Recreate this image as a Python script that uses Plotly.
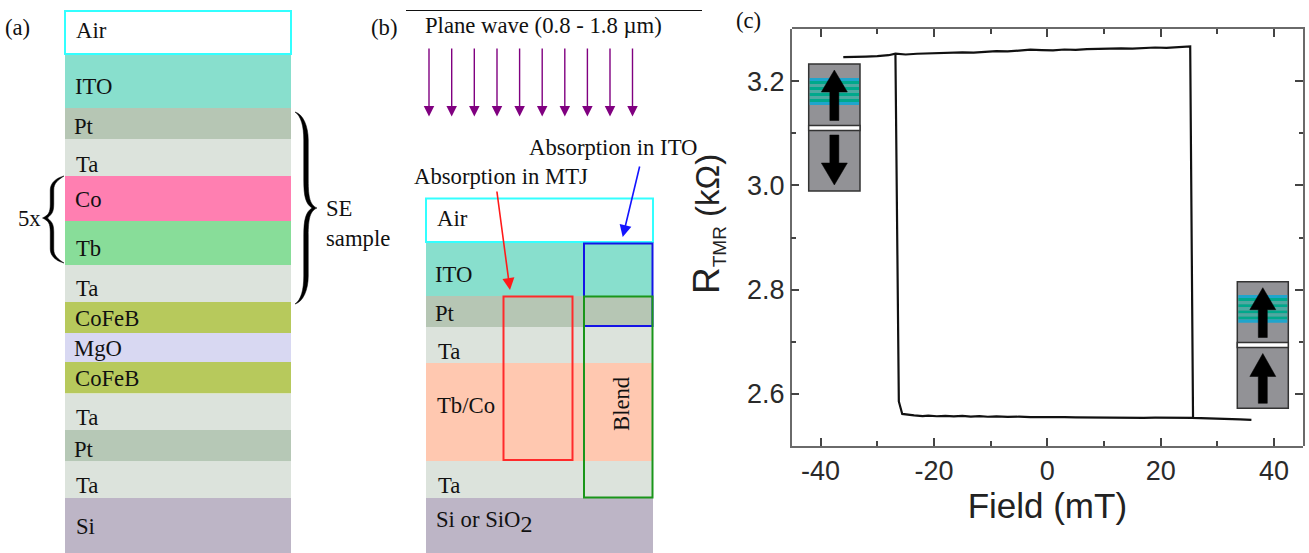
import plotly.graph_objects as go

W, H = 1309, 553
SERIF = "Liberation Serif"
SANS = "Liberation Sans"

# ---- panel (c) data
top_field = [-36, -34, -32, -30, -28, -26.8, -25, -23, -21, -19, -17, -15, -13, -11, -9, -7, -5, -3, -1, 1, 3, 5, 7, 9, 11, 13, 15, 17, 19, 21, 23, 25.2, 25.7, 28, 30, 32, 34, 36]
top_res = [3.2466, 3.2466, 3.2476, 3.2484, 3.2502, 3.2531, 3.2516, 3.2530, 3.2538, 3.2532, 3.2546, 3.2558, 3.2552, 3.2566, 3.2580, 3.2574, 3.2592, 3.2608, 3.2600, 3.2596, 3.2612, 3.2604, 3.2618, 3.2626, 3.2620, 3.2634, 3.2628, 3.2642, 3.2650, 3.2644, 3.2656, 3.2670, 2.5535, 2.5530, 2.5522, 2.5516, 2.5506, 2.5496]
bot_field = [25.7, 23, 21, 19, 17, 15, 13, 11, 9, 7, 5, 3, 1, -1, -3, -5, -7, -9, -10.5, -12, -13.5, -15, -16.5, -18, -19.5, -21, -22, -23.5, -25.6, -26.2, -26.8]
bot_res = [2.5535, 2.5540, 2.5534, 2.5538, 2.5535, 2.5535, 2.5542, 2.5540, 2.5545, 2.5544, 2.5546, 2.5550, 2.5548, 2.5552, 2.5550, 2.5558, 2.5552, 2.5565, 2.5556, 2.5570, 2.5560, 2.5572, 2.5562, 2.5574, 2.5566, 2.5578, 2.5570, 2.5584, 2.5610, 2.5850, 3.2531]
x_tick_vals = [-40, -20, 0, 20, 40]
x_tick_text = ["-40", "-20", "0", "20", "40"]
y_tick_vals = [2.6, 2.8, 3.0, 3.2]
y_tick_text = ["2.6", "2.8", "3.0", "3.2"]

# ---- layer stacks of panels (a) and (b)
a_names = ["ITO", "Pt", "Ta", "Co", "Tb", "Ta", "CoFeB", "MgO", "CoFeB", "Ta", "Pt", "Ta", "Si"]
a_thick = [53, 31, 37, 45, 44, 37, 31, 29, 31.5, 36.5, 31.5, 36.5, 55]
a_colors = ["#88dfcd", "#b6c6b4", "#dce3dc", "#ff7fb1", "#88dd99", "#dce3dc", "#b7c95c", "#d8d8f2", "#b7c95c", "#dce3dc", "#b6c8b6", "#dce3dc", "#bdb5c6"]
b_names = ["ITO", "Pt", "Ta", "Tb/Co", "Ta", "Si"]
b_thick = [53, 31, 36, 98, 37, 55]
b_colors = ["#88dfcd", "#b6c6b4", "#dce3dc", "#ffc8b0", "#dce3dc", "#bdb5c6"]

fig = go.Figure()

def stack(names, thick, colors, left, right, start):
    tops, t = [], start
    for h in thick:
        tops.append(t)
        t += h
    fig.add_trace(go.Bar(
        x=[(left + right) / 2] * len(thick), y=thick, base=tops,
        width=[right - left] * len(thick), marker=dict(color=colors, line=dict(width=0)),
        xaxis="x2", yaxis="y2", showlegend=False, text=names, textposition="none",
        hoverinfo="text", orientation="v"))

stack(a_names, a_thick, a_colors, 65, 291, 55)
stack(b_names, b_thick, b_colors, 426, 653, 243)

line_color = "#111111"
fig.add_trace(go.Scatter(x=top_field, y=top_res, mode="lines", line=dict(color=line_color, width=2.2),
                         showlegend=False, name="sweep 1"))
fig.add_trace(go.Scatter(x=bot_field, y=bot_res, mode="lines", line=dict(color=line_color, width=2.2),
                         showlegend=False, name="sweep 2"))
# carrier of the mirrored top and right tick axes
fig.add_trace(go.Scatter(x=[], y=[], xaxis="x3", yaxis="y3", showlegend=False, hoverinfo="skip"))

shapes, notes = [], []

def rect(x0, y0, x1, y1, fill="rgba(0,0,0,0)", line=None, lw=0):
    shapes.append(dict(type="rect", xref="x2", yref="y2", x0=x0, y0=y0, x1=x1, y1=y1,
                       fillcolor=fill, line=dict(color=line or "rgba(0,0,0,0)", width=lw), layer="above"))

def path(d, fill="#000000"):
    shapes.append(dict(type="path", xref="x2", yref="y2", path=d, fillcolor=fill,
                       line=dict(width=0.5, color=fill), layer="above"))

def text(x, y, s, size=22.7, anchor="left", angle=0, color="#111111", font=SERIF):
    notes.append(dict(x=x, y=y, xref="x2", yref="y2", text=s, showarrow=False, xanchor=anchor,
                      yanchor="middle", textangle=angle, borderpad=0, borderwidth=0,
                      font=dict(family=font, size=size, color=color)))

def arrow(x0, y0, x1, y1, color, width, size):
    notes.append(dict(x=x1, y=y1, ax=x0, ay=y0, xref="x2", yref="y2", axref="x2", ayref="y2", text="",
                      showarrow=True, arrowhead=2, arrowsize=size, arrowwidth=width, arrowcolor=color,
                      standoff=0, startstandoff=0))

def brace(xe, xm, xt, y0, yc, y1, t, r):
    s = 1 if xt > xe else -1
    o = xm + s * t / 2      # edge on the tip side
    i = xm - s * t / 2      # edge on the far side
    d = (f"M {xe},{y0} C {xe+s*8},{y0+2} {o},{y0+r*.5} {o},{y0+r} L {o},{yc-r} "
         f"C {o},{yc-r*.35} {o+s*2},{yc-3} {xt},{yc} C {o+s*2},{yc+3} {o},{yc+r*.35} {o},{yc+r} "
         f"L {o},{y1-r} C {o},{y1-r*.5} {xe+s*8},{y1-2} {xe},{y1} "
         f"C {xe+s*6},{y1-4} {i},{y1-r*.5} {i},{y1-r} L {i},{yc+r} C {i},{yc+r*.4} {i+s*2},{yc+4} {xt-s*5},{yc} "
         f"C {i+s*2},{yc-4} {i},{yc-r*.4} {i},{yc-r} L {i},{y0+r} C {i},{y0+r*.5} {xe+s*6},{y0+4} {xe},{y0} Z")
    path(d)

def inset(x0, y0, x1, y1, band0, band1, gap0, gap1, arrow_up_lower):
    rect(x0, y0, x1, y1, fill="#929296", line="#333333", lw=1.5)
    bands = ["#1fa5cc", "#00a88c", "#4fa9a2", "#00a88c", "#4fa9a2", "#00a88c", "#4fa9a2", "#00a88c", "#1fa5cc"]
    h = (band1 - band0) / len(bands)
    for k, c in enumerate(bands):
        rect(x0 + 1, band0 + k * h, x1 - 1, band0 + (k + 1) * h, fill=c)
    rect(x0, gap0, x1, gap1, fill="#ffffff", line="#333333", lw=1.5)
    xc = (x0 + x1) / 2
    def head(tip, base, dirn):
        path(f"M {xc},{tip} L {xc+13},{base} L {xc+4.5},{base} L {xc+4.5},{base+dirn} "
             f"L {xc-4.5},{base+dirn} L {xc-4.5},{base} L {xc-13},{base} Z")
    head(y0 + 6, y0 + 28, gap0 - 5 - (y0 + 28))
    if arrow_up_lower:
        head(gap1 + 6, gap1 + 29, y1 - 5 - (gap1 + 29))
    else:
        head(y1 - 6, y1 - 28, -(y1 - 28 - (gap1 + 4.5)))

# ---- panel (a)
rect(65, 11, 291, 54, fill="#ffffff", line="#33ffff", lw=2)
a_labels = [("Air", 76, 30), ("ITO", 75, 86), ("Pt", 74, 126), ("Ta", 76, 164), ("Co", 75, 199), ("Tb", 76, 248),
            ("Ta", 76, 288), ("CoFeB", 75, 318), ("MgO", 74, 348), ("CoFeB", 75, 378), ("Ta", 76, 417),
            ("Pt", 74, 449), ("Ta", 76, 485), ("Si", 76, 526)]
for s, x, y in a_labels:
    text(x, y, s)
brace(295, 306, 317, 112, 208, 304, 4.5, 28)
brace(64, 52, 42.5, 176, 218, 263, 3.5, 14)
text(18, 218, "5x")
text(326, 208, "SE")
text(326, 238, "sample")
text(5, 27, "(a)")
text(371, 27, "(b)")
text(736, 20, "(c)")

# ---- panel (b)
shapes.append(dict(type="line", xref="x2", yref="y2", x0=406, x1=702, y0=10.5, y1=10.5,
                   line=dict(color="#111111", width=1), layer="above"))
text(425, 25, "Plane wave (0.8 - 1.8 µm)")
for x in [429, 451.7, 474.3, 497, 519.6, 542.2, 564.8, 587.4, 610, 632.5]:
    arrow(x, 47, x, 116.5, "#800080", 1.4, 1.5)
text(529, 147, "Absorption in ITO")
text(414, 176, "Absorption in MTJ")
rect(426, 198.5, 653, 242, fill="#ffffff", line="#33ffff", lw=2)
b_labels = [("Air", 437, 218), ("ITO", 435, 274), ("Pt", 435, 313), ("Ta", 438, 351), ("Tb/Co", 437, 405),
            ("Ta", 438, 485), ('Si or SiO<sub><span style="font-size:24px">2</span></sub>', 436, 522)]
for s, x, y in b_labels:
    text(x, y, s)
text(621, 404, "Blend", anchor="center", angle=-90)
rect(584, 243.5, 652.5, 326, line="#1414e6", lw=2)
rect(503.5, 296.5, 572.5, 460, line="#ff2a2a", lw=2)
rect(584, 296.5, 652.5, 497.5, line="#1a961a", lw=2)
arrow(496.7, 190, 510, 290, "#ff1a1a", 1.6, 1.5)
arrow(640, 165, 622.7, 237, "#1414ff", 1.6, 1.5)

# ---- panel (c) inserts and y title
inset(808.7, 64, 860, 191, 78, 105, 125.5, 130.5, False)
inset(1237.3, 281.7, 1288.3, 408.3, 295, 322.7, 342.5, 347.5, True)
text(708, 224, '<span style="font-size:37px">R</span><sub><span style="font-size:19px">TMR</span></sub> (kΩ)',
     size=33, anchor="center", angle=-90, font=SANS, color="#222222")

tick_style = dict(ticks="inside", ticklen=8, tickwidth=1.5, tickcolor="#444444")
minor_style = dict(ticks="inside", ticklen=4.5, tickwidth=1.5, tickcolor="#444444")
axis_common = dict(showline=True, linecolor="#6a6a6a", linewidth=1.5, showgrid=False, zeroline=False,
                   tickfont=dict(family=SANS, size=27, color="#2a2a2a"), **tick_style)
hidden = dict(visible=False, showgrid=False, zeroline=False, fixedrange=True)
x_dom = [791.7 / W, 1303 / W]
y_dom = [1 - 445.7 / H, 1 - 29.3 / H]
x_rng = [-45.1, 45.1]
y_rng = [2.5, 3.3]

fig.update_layout(
    width=W, height=H, margin=dict(l=0, r=0, t=0, b=0), autosize=False,
    paper_bgcolor="#ffffff", plot_bgcolor="rgba(0,0,0,0)", showlegend=False, barmode="overlay",
    xaxis=dict(domain=x_dom, range=x_rng, tickmode="array", tickvals=x_tick_vals, ticktext=x_tick_text,
               minor=dict(dtick=10, tick0=0, **minor_style),
               title=dict(text="Field (mT)", font=dict(family=SANS, size=35, color="#222222"), standoff=7),
               anchor="y", **axis_common),
    yaxis=dict(domain=y_dom, range=y_rng, tickmode="array", tickvals=y_tick_vals, ticktext=y_tick_text,
               minor=dict(dtick=0.1, tick0=0, **minor_style), anchor="x", **axis_common),
    xaxis2=dict(domain=[0, 1], range=[0, W], anchor="y2", **hidden),
    yaxis2=dict(domain=[0, 1], range=[H, 0], anchor="x2", **hidden),
    xaxis3=dict(domain=x_dom, range=x_rng, side="top", anchor="y3", showticklabels=False, tickmode="array",
                tickvals=x_tick_vals, minor=dict(dtick=10, tick0=0, **minor_style), showline=True,
                linecolor="#6a6a6a", linewidth=1.5, showgrid=False, zeroline=False, **tick_style),
    yaxis3=dict(domain=y_dom, range=y_rng, side="right", anchor="x3", showticklabels=False, tickmode="array",
                tickvals=y_tick_vals, minor=dict(dtick=0.1, tick0=0, **minor_style), showline=True,
                linecolor="#6a6a6a", linewidth=1.5, showgrid=False, zeroline=False, **tick_style),
    shapes=shapes, annotations=notes,
)

fig.write_html("out.html", config=dict(displayModeBar=False),
               post_script="document.body.style.margin='0';")
